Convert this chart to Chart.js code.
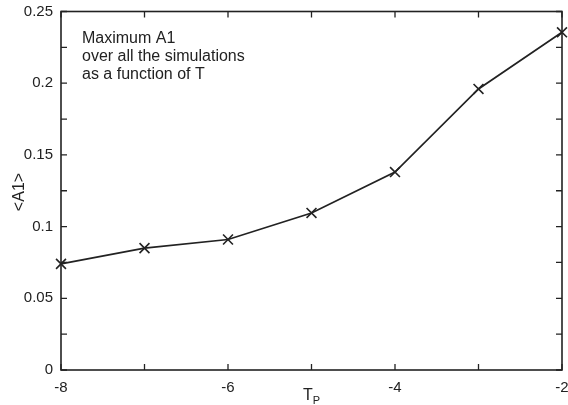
<!DOCTYPE html>
<html lang="en">
<head>
<meta charset="UTF-8">
<title>Maximum A1</title>
<script src="https://cdn.jsdelivr.net/npm/chart.js"></script>
<style>
    body { margin: 0; background: #fff; }
    canvas { display: block; }
</style>
</head>
<body>
<canvas id="a1Chart" width="568" height="405"></canvas>
<script>
// data
var tpValues = [-8, -7, -6, -5, -4, -3, -2];
var a1Values = [0.074, 0.085, 0.091, 0.1095, 0.138, 0.196, 0.2355];

// tick labels and tick marks
var xTickLabels = [-8, -6, -4, -2];
var yTickLabels = [0, 0.05, 0.1, 0.15, 0.2, 0.25];
var xMinorTicks = [-8, -7, -6, -5, -4, -3, -2];
var yMinorTicks = [0, 0.025, 0.05, 0.075, 0.1, 0.125, 0.15, 0.175, 0.2, 0.225, 0.25];

var noteLines = ['Maximum A1', 'over all the simulations', 'as a function of T'];

var inkColor = '#222';
var fontFamily = '"Liberation Sans", Arial, Helvetica, sans-serif';

// draws the frame, inward ticks, axis titles and the note
var framePlugin = {
    id: 'frame',
    afterDraw: function (chart) {
        var ctx = chart.ctx;
        var area = chart.chartArea;
        var xs = chart.scales.x;
        var ys = chart.scales.y;
        var tick = 6;

        ctx.save();
        ctx.strokeStyle = inkColor;
        ctx.lineWidth = 1.6;
        ctx.strokeRect(area.left, area.top, area.right - area.left, area.bottom - area.top);

        ctx.lineWidth = 1.3;
        ctx.beginPath();
        xMinorTicks.forEach(function (v) {
            var px = xs.getPixelForValue(v);
            ctx.moveTo(px, area.bottom);
            ctx.lineTo(px, area.bottom - tick);
            ctx.moveTo(px, area.top);
            ctx.lineTo(px, area.top + tick);
        });
        yMinorTicks.forEach(function (v) {
            var py = ys.getPixelForValue(v);
            ctx.moveTo(area.left, py);
            ctx.lineTo(area.left + tick, py);
            ctx.moveTo(area.right, py);
            ctx.lineTo(area.right - tick, py);
        });
        ctx.stroke();

        // note in the top left corner
        ctx.fillStyle = inkColor;
        ctx.font = '16px ' + fontFamily;
        ctx.textAlign = 'left';
        ctx.textBaseline = 'alphabetic';
        noteLines.forEach(function (line, i) {
            ctx.fillText(line, 82, 43 + i * 17.8);
        });

        // x axis title: T with subscript P
        var cx = (area.left + area.right) / 2;
        ctx.font = '16px ' + fontFamily;
        var tWidth = ctx.measureText('T').width;
        ctx.font = '11px ' + fontFamily;
        var pWidth = ctx.measureText('P').width;
        var startX = cx - (tWidth + pWidth) / 2;
        ctx.font = '16px ' + fontFamily;
        ctx.fillText('T', startX, 400);
        ctx.font = '11px ' + fontFamily;
        ctx.fillText('P', startX + tWidth, 404);

        // y axis title
        ctx.translate(24, 192);
        ctx.rotate(-Math.PI / 2);
        ctx.font = '16px ' + fontFamily;
        ctx.textAlign = 'center';
        ctx.fillText('<A1>', 0, 0);
        ctx.restore();
    }
};

var ctxA1 = document.getElementById('a1Chart').getContext('2d');
var a1Chart = new Chart(ctxA1, {
    type: 'line',
    data: {
        datasets: [{
            data: tpValues.map(function (t, i) { return { x: t, y: a1Values[i] }; }),
            borderColor: inkColor,
            borderWidth: 1.7,
            pointStyle: 'crossRot',
            pointRadius: 7,
            pointBorderWidth: 1.6,
            pointBorderColor: inkColor,
            fill: false,
            tension: 0,
            clip: false
        }]
    },
    options: {
        responsive: false,
        animation: false,
        layout: { padding: { left: 0, right: 6, top: 11.5, bottom: 0 } },
        plugins: {
            legend: { display: false },
            tooltip: { enabled: false }
        },
        scales: {
            x: {
                type: 'linear',
                min: -8,
                max: -2,
                grid: { display: false, drawTicks: false },
                border: { display: false },
                afterBuildTicks: function (scale) {
                    scale.ticks = xTickLabels.map(function (v) { return { value: v }; });
                },
                afterFit: function (scale) {
                    scale.height = 35;
                    scale.paddingLeft = 0;
                    scale.paddingRight = 0;
                },
                ticks: {
                    autoSkip: false,
                    maxRotation: 0,
                    padding: 9,
                    color: inkColor,
                    font: { family: fontFamily, size: 15 },
                    callback: function (v) { return String(v); }
                }
            },
            y: {
                type: 'linear',
                min: 0,
                max: 0.25,
                grid: { display: false, drawTicks: false },
                border: { display: false },
                afterBuildTicks: function (scale) {
                    scale.ticks = yTickLabels.map(function (v) { return { value: v }; });
                },
                afterFit: function (scale) {
                    scale.width = 61;
                    scale.paddingTop = 0;
                    scale.paddingBottom = 0;
                },
                ticks: {
                    autoSkip: false,
                    padding: 8,
                    color: inkColor,
                    font: { family: fontFamily, size: 15 },
                    callback: function (v) { return String(v); }
                }
            }
        }
    },
    plugins: [framePlugin]
});

// the end markers sit on the frame, so don't reserve room for them
a1Chart.getDatasetMeta(0).controller.getMaxOverflow = function () { return 0; };
a1Chart.update('none');
</script>
</body>
</html>
